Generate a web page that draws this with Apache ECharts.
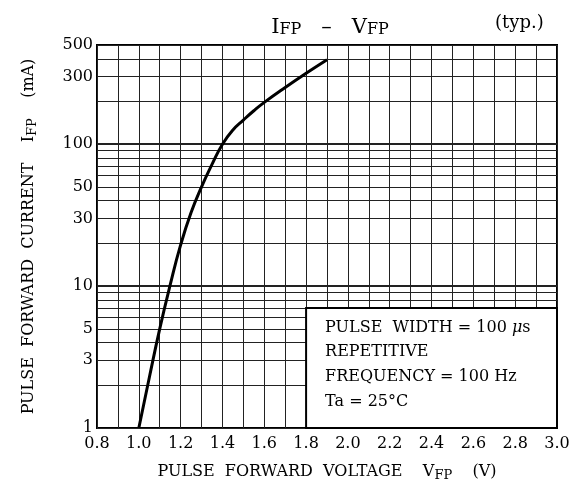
<!DOCTYPE html>
<html>
<head>
<meta charset="utf-8">
<script src="https://cdn.jsdelivr.net/npm/echarts@6/dist/echarts.min.js"></script>
<style>html,body{margin:0;padding:0;background:#fff;}#c{width:574px;height:491px;}</style>
</head>
<body>
<div id="c"></div>
<script>
// Data
var vfp = [1.0, 1.05, 1.1, 1.15, 1.2, 1.25, 1.3, 1.35, 1.4, 1.45, 1.5, 1.55, 1.6, 1.7, 1.8, 1.9];
var ifp = [1, 2.26, 5.0, 10.2, 19.5, 33, 50, 72, 100, 126, 148, 172, 197, 251, 316, 394];
var yGrid = [1,2,3,4,5,6,7,8,9,10,20,30,40,50,60,70,80,90,100,200,300,400,500];
var yLabels = [1,3,5,10,30,50,100,300,500];
var xMin = 0.8, xMax = 3.0, xStep = 0.1;
var boxX = [1.8, 3.0], boxY = [1, 7];
var noteLines = ['PULSE  WIDTH = 100 {i|μ}s', 'REPETITIVE', 'FREQUENCY = 100 Hz', 'Ta = 25°C'];

var FONT = 'DejaVu Serif';
var chart = echarts.init(document.getElementById('c'), null, {renderer: 'canvas'});
var curve = vfp.map(function (v, i) { return [v, ifp[i]]; });

chart.setOption({
  backgroundColor: '#fff',
  animation: false,
  title: [{
    text: '{b|I}{s|FP}{b|   –   V}{s|FP}',
    left: 325, top: 7, textAlign: 'center',
    textStyle: {
      fontWeight: 'normal',
      rich: {
        b: {fontFamily: FONT, fontSize: 21, fontWeight: 'normal', color: '#000', verticalAlign: 'bottom', lineHeight: 26},
        s: {fontFamily: FONT, fontSize: 16, fontWeight: 'normal', color: '#000', verticalAlign: 'bottom', lineHeight: 22}
      }
    }
  }, {
    text: '(typ.)', left: 490, top: 9,
    textStyle: {fontFamily: FONT, fontSize: 18, fontWeight: 'normal', color: '#000'}
  }],
  grid: {left: 97, right: 17, top: 45, bottom: 63, show: true, borderColor: '#000', borderWidth: 2, backgroundColor: 'transparent'},
  xAxis: {
    type: 'value', min: xMin, max: xMax, interval: xStep,
    axisLine: {show: false}, axisTick: {show: false},
    axisLabel: {
      fontFamily: FONT, fontSize: 16, color: '#000', margin: 8,
      formatter: function (v) { return Math.round(v * 10) % 2 === 0 ? v.toFixed(1) : ''; }
    },
    splitLine: {show: true, lineStyle: {color: '#222', width: 1}},
    name: 'PULSE  FORWARD  VOLTAGE    V{s|FP}    (V)',
    nameLocation: 'middle', nameGap: 34,
    nameTextStyle: {
      fontFamily: FONT, fontSize: 16, color: '#000',
      rich: {s: {fontFamily: FONT, fontSize: 13, color: '#000', verticalAlign: 'bottom', padding: [7, 0, 0, 0]}}
    }
  },
  yAxis: {
    type: 'log', logBase: 10, min: 1, max: 500,
    axisLine: {show: false}, axisTick: {show: false},
    axisLabel: {show: false},
    splitLine: {show: false},
    name: 'PULSE  FORWARD  CURRENT    I{s|FP}    (mA)',
    nameLocation: 'middle', nameGap: 58,
    nameTextStyle: {
      fontFamily: FONT, fontSize: 16, color: '#000',
      rich: {s: {fontFamily: FONT, fontSize: 13, color: '#000', verticalAlign: 'bottom', padding: [7, 0, 0, 0]}}
    }
  },
  series: [{
    type: 'line', data: [], z: 1, silent: true,
    markLine: {
      silent: true, symbol: 'none', animation: false, z: 1,
      data: yGrid.map(function (v) {
        return {
          yAxis: v,
          lineStyle: {color: '#222', type: 'solid', width: (v === 10 || v === 100) ? 2 : 1},
          label: {
            show: yLabels.indexOf(v) >= 0, position: 'start', distance: 4,
            formatter: String(v), fontFamily: FONT, fontSize: 16, color: '#000'
          }
        };
      })
    }
  }, {
    type: 'line', data: [], z: 2, silent: true,
    markArea: {
      silent: true, z: 2,
      itemStyle: {color: '#fff', opacity: 1, borderColor: '#000', borderWidth: 2},
      label: {
        show: true, position: 'insideTopLeft', distance: 8, offset: [12, 0],
        formatter: noteLines.join('\n'),
        fontFamily: FONT, fontSize: 16, color: '#000', lineHeight: 24.7,
        rich: {i: {fontFamily: FONT, fontSize: 16, fontStyle: 'italic', color: '#000', lineHeight: 24.7}}
      },
      data: [[{xAxis: boxX[0], yAxis: boxY[0]}, {xAxis: boxX[1], yAxis: boxY[1]}]]
    }
  }, {
    type: 'line', data: curve, z: 5, smooth: 0.5, showSymbol: false, symbol: 'none',
    lineStyle: {color: '#000', width: 3}
  }]
});
</script>
</body>
</html>
